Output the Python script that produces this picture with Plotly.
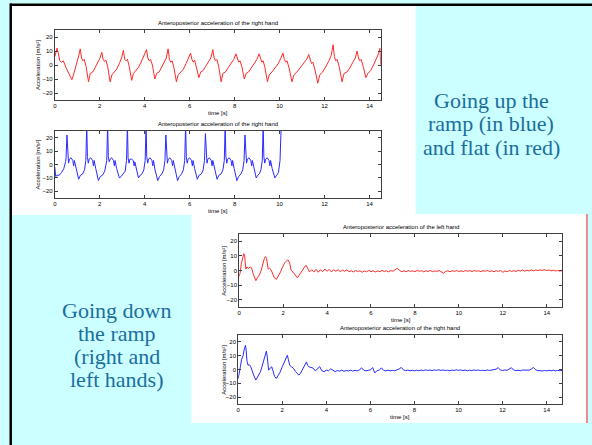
import plotly.graph_objects as go

W, H = 592, 445

# ---------------- data (time [s], acceleration [m/s^2]) ----------------
up_flat_red = [
    (0.0, 6), (0.05, 10), (0.1, 12), (0.15, 9), (0.22, 3), (0.3, 2), (0.38, 3), (0.5, -2), (0.6, -5),
    (0.76, -10.5), (0.83, -7), (0.9, -3), (1.0, 2), (1.07, 7),
    (1.13, 11.5), (1.19, 5), (1.25, 3), (1.31, 4), (1.39, -1), (1.50, -12), (1.58, -6), (1.69, -5), (1.79, -2), (1.91, 2), (2.01, 5),
    (2.09, 9), (2.15, 4), (2.21, 2.5), (2.27, 3.5), (2.35, -1), (2.46, -12), (2.54, -7), (2.65, -5), (2.75, -3), (2.87, 1), (2.97, 5),
    (3.05, 10.5), (3.11, 4), (3.17, 3), (3.23, 4), (3.31, -1), (3.42, -11), (3.50, -6), (3.61, -4), (3.71, -2), (3.84, 2), (3.96, 6),
    (4.08, 11), (4.14, 5), (4.20, 3), (4.26, 4), (4.34, 0), (4.45, -10), (4.53, -6), (4.64, -5), (4.74, -2), (4.86, 1), (4.96, 5),
    (5.04, 11.5), (5.10, 4), (5.16, 2), (5.22, 3), (5.30, -2), (5.41, -12), (5.49, -7), (5.60, -5), (5.72, -3), (5.84, 1), (5.95, 5),
    (6.04, 8.5), (6.10, 4), (6.16, 2), (6.22, 3.5), (6.30, -1), (6.41, -9), (6.49, -5), (6.60, -4), (6.71, -1), (6.83, 2), (6.94, 5),
    (7.03, 11), (7.09, 5), (7.15, 3), (7.21, 4), (7.29, -1), (7.40, -12), (7.48, -6), (7.59, -5), (7.71, -2), (7.84, 1), (7.96, 4),
    (8.06, 8), (8.12, 4), (8.18, 2), (8.24, 3), (8.32, -1), (8.43, -10), (8.51, -6), (8.62, -5), (8.74, -2), (8.87, 1), (8.99, 4),
    (9.09, 8), (9.15, 4), (9.21, 2), (9.27, 3), (9.35, -2), (9.46, -12), (9.54, -7), (9.66, -5), (9.80, -2), (9.94, 1), (10.06, 5),
    (10.15, 8.5), (10.21, 4), (10.27, 2), (10.33, 3), (10.42, -2), (10.55, -12), (10.64, -7), (10.77, -5), (10.92, -2), (11.06, 1), (11.2, 4),
    (11.30, 7.5), (11.36, 3), (11.42, 1), (11.48, 2), (11.57, -3), (11.70, -13), (11.79, -7), (11.92, -5), (12.06, -1), (12.2, 3), (12.3, 7),
    (12.38, 14.5), (12.44, 6), (12.50, 3), (12.56, 4), (12.65, -1), (12.78, -12), (12.87, -6), (13.0, -5), (13.13, -2), (13.26, 2), (13.37, 5),
    (13.45, 10), (13.51, 5), (13.57, 3), (13.63, 4), (13.72, -1), (13.84, -9), (13.93, -6), (14.05, -4), (14.18, 0), (14.3, 4), (14.4, 8),
    (14.47, 12), (14.5, 0),
]

up_ramp_blue = [
    (0.0, -2), (0.04, -9), (0.1, -8), (0.2, -8), (0.3, -6), (0.4, -3), (0.48, 2), (0.5, 5),
    (0.54, 22), (0.57, 6), (0.61, 1), (0.65, 4), (0.72, 5), (0.80, 3), (0.84, -1), (0.87, 3), (0.94, -3), (1.06, -11), (1.14, -8), (1.24, -7), (1.32, -4), (1.38, 3),
    (1.42, 30), (1.45, 6), (1.49, 1), (1.53, 4), (1.60, 5), (1.68, 3), (1.72, -1), (1.75, 3), (1.82, -3), (1.94, -12), (2.02, -9), (2.12, -8), (2.22, -5), (2.31, 3),
    (2.35, 30), (2.38, 6), (2.42, 2), (2.46, 4), (2.53, 5), (2.61, 3), (2.65, -1), (2.68, 3), (2.75, -3), (2.87, -10), (2.95, -9), (3.05, -7), (3.13, -5), (3.19, 3),
    (3.23, 30), (3.26, 5), (3.30, 1), (3.34, 4), (3.41, 4), (3.49, 3), (3.53, -1), (3.56, 2), (3.63, -3), (3.72, -10), (3.80, -8), (3.88, -7), (3.96, -4), (4.02, 3),
    (4.06, 30), (4.09, 6), (4.13, 1), (4.17, 4), (4.24, 5), (4.32, 3), (4.36, -1), (4.39, 3), (4.46, -4), (4.58, -12), (4.66, -9), (4.76, -7), (4.84, -4), (4.90, 3),
    (4.94, 22), (4.97, 6), (5.01, 1), (5.05, 4), (5.12, 5), (5.20, 3), (5.24, -1), (5.27, 3), (5.34, -3), (5.46, -12), (5.54, -9), (5.64, -7), (5.72, -4), (5.78, 3),
    (5.82, 30), (5.85, 6), (5.89, 1), (5.93, 4), (6.00, 5), (6.08, 3), (6.12, -1), (6.15, 3), (6.22, -3), (6.34, -11), (6.42, -8), (6.52, -7), (6.60, -4), (6.66, 3),
    (6.70, 23), (6.73, 6), (6.77, 1), (6.81, 4), (6.88, 5), (6.96, 3), (7.00, -1), (7.03, 3), (7.10, -3), (7.22, -11), (7.30, -8), (7.40, -7), (7.48, -4), (7.54, 3),
    (7.58, 30), (7.61, 6), (7.65, 1), (7.69, 4), (7.76, 5), (7.84, 3), (7.88, -1), (7.91, 3), (7.98, -3), (8.10, -12), (8.18, -9), (8.28, -7), (8.36, -4), (8.42, 3),
    (8.46, 22), (8.49, 6), (8.53, 1), (8.57, 4), (8.64, 5), (8.72, 3), (8.76, -1), (8.79, 3), (8.86, -3), (8.96, -10), (9.03, -8), (9.10, -7), (9.17, -4), (9.23, 3),
    (9.27, 30), (9.30, 6), (9.34, 1), (9.38, 4), (9.45, 5), (9.53, 3), (9.57, -1), (9.60, 3), (9.67, -3), (9.79, -10), (9.87, -8), (9.95, -6), (10.02, 3),
    (10.07, 28),
]

down_left_red = [
    (0.0, -4), (0.05, -1), (0.1, 5), (0.16, 10), (0.21, 11.5), (0.25, 10), (0.3, 1), (0.35, 2.5), (0.42, 1.5), (0.5, 2.5),
    (0.56, 2), (0.63, -2), (0.7, -5.5), (0.76, -7), (0.83, -5), (0.92, -3), (1.0, 0), (1.08, 5), (1.15, 8.5), (1.2, 9.5),
    (1.25, 8), (1.32, 1), (1.38, 1.5), (1.45, 0.5), (1.52, -2), (1.6, -5), (1.7, -6), (1.78, -4), (1.88, -1), (1.98, 2.5),
    (2.08, 5.5), (2.18, 7), (2.23, 7.2), (2.3, 5), (2.36, 0.5), (2.44, -1), (2.52, -2.5), (2.6, -4.5), (2.65, -5), (2.72, -3.5),
    (2.8, -1.5), (2.9, 1), (3.0, 3), (3.05, 3.5), (3.1, 2), (3.15, 0),
    (3.2, -1), (3.3, 0.5), (3.4, -1), (3.5, 0.8), (3.6, -1.2), (3.7, 0.5), (3.8, -0.8), (3.9, 1), (4.0, -0.5), (4.1, 0.8),
    (4.2, -1), (4.3, 0.5), (4.4, -0.5), (4.5, 0.6), (4.6, -0.8), (4.7, 0.2), (4.8, -0.5), (4.9, 0.4), (5.0, -0.8), (5.1, -0.2),
    (5.2, -1), (5.3, 0), (5.4, -0.6), (5.5, -0.2), (5.6, -1.2), (5.7, -0.3), (5.8, -0.8), (5.9, 0), (6.0, -0.7), (6.1, -0.2),
    (6.2, -1), (6.3, -0.3), (6.4, -0.8), (6.5, 0), (6.6, -0.6), (6.7, -0.2), (6.8, -0.9), (6.9, -0.1), (7.0, -0.5), (7.1, 0.5),
    (7.2, 1.6), (7.3, 0), (7.4, -0.8), (7.5, -0.2), (7.6, -0.9), (7.7, 0), (7.8, -0.6), (7.9, -0.2), (8.0, -0.8), (8.1, 0),
    (8.2, -0.5), (8.3, -0.1), (8.4, -0.9), (8.5, -0.2), (8.6, -0.6), (8.7, 0), (8.8, -0.8), (8.9, -0.3), (9.0, -0.6), (9.1, 0),
    (9.2, -0.8), (9.3, -1.8), (9.4, -0.6), (9.5, -0.2), (9.6, -0.9), (9.7, -0.1), (9.8, -0.6), (9.9, 0), (10.0, -0.7), (10.1, -0.2),
    (10.2, -0.8), (10.3, 0), (10.4, -0.5), (10.5, -0.1), (10.6, -0.7), (10.7, 0), (10.8, -0.5), (10.9, -0.2), (11.0, -0.8), (11.1, -0.1),
    (11.2, -0.5), (11.3, 0), (11.4, -0.7), (11.5, -0.2), (11.6, -0.9), (11.7, -0.1), (11.8, -0.6), (11.9, 0), (12.0, -1.2), (12.1, -0.3),
    (12.2, -0.8), (12.3, 0), (12.4, -0.6), (12.5, -0.1), (12.6, -0.7), (12.7, 0.2), (12.8, -0.4), (12.9, 0.3), (13.0, -0.5), (13.1, 0.2),
    (13.2, -0.3), (13.3, 0.4), (13.4, -0.2), (13.5, 0.3), (13.6, 0), (13.7, 0.4), (13.8, 0.1), (13.9, 0.5), (14.0, 0), (14.1, 0.3),
    (14.2, -0.2), (14.3, 0.2), (14.4, -0.3), (14.5, 0), (14.6, -0.4), (14.7, -0.1),
]

down_right_blue = [
    (0.0, -6.5), (0.05, -3), (0.1, 2), (0.15, 7), (0.22, 10), (0.28, 15), (0.33, 17.5), (0.36, 14), (0.4, 6), (0.45, 3),
    (0.5, 3.5), (0.56, 2.5), (0.62, -0.5), (0.7, -4), (0.8, -7.7), (0.86, -6), (0.92, -5), (1.0, -2), (1.08, 2), (1.16, 7),
    (1.24, 12), (1.28, 13.4), (1.32, 9), (1.38, -0.5), (1.45, 1), (1.52, 2), (1.58, -1), (1.65, -5), (1.73, -6.5), (1.8, -5),
    (1.9, -2), (2.0, 2), (2.1, 6), (2.18, 9.5), (2.23, 10.3), (2.28, 7), (2.34, 3), (2.42, 2), (2.5, 1), (2.6, -1.5),
    (2.68, -3), (2.75, -4), (2.82, -3), (2.9, -0.5), (3.0, 3), (3.06, 5), (3.1, 5.5), (3.15, 3), (3.2, 2), (3.3, 1.5),
    (3.4, 1), (3.5, -1), (3.6, 0.5), (3.7, 2), (3.8, -1), (3.9, -1.5), (4.0, -0.5), (4.1, -1), (4.2, 0.5), (4.3, -0.5),
    (4.4, -1.5), (4.5, -0.8), (4.6, -1.2), (4.7, -0.5), (4.8, -1.3), (4.9, -0.8), (5.0, -1), (5.1, -0.5), (5.2, -1.2), (5.3, -0.6),
    (5.4, -1), (5.5, -0.3), (5.6, 1.2), (5.7, -0.5), (5.8, -1), (5.9, -0.6), (6.0, -0.3), (6.1, 1.4), (6.2, -2.5), (6.3, -0.8),
    (6.4, -0.5), (6.5, 1.2), (6.6, -0.6), (6.7, -1), (6.8, -0.5), (6.9, -0.9), (7.0, -0.6), (7.1, -0.9), (7.2, -0.4), (7.3, 0.3),
    (7.4, 1.5), (7.5, -0.3), (7.6, -0.8), (7.7, -0.5), (7.8, -0.9), (7.9, -0.6), (8.0, -1), (8.1, -0.5), (8.2, -0.9), (8.3, -0.4),
    (8.4, -0.8), (8.5, -0.3), (8.6, -0.7), (8.7, -0.4), (8.8, -0.8), (8.9, -0.3), (9.0, -0.6), (9.1, -0.2), (9.2, -0.7), (9.3, -0.3),
    (9.4, -0.8), (9.5, -0.5), (9.6, -0.9), (9.7, -0.4), (9.8, -0.7), (9.9, -0.2), (10.0, -0.6), (10.1, -0.3), (10.2, -0.8), (10.3, -0.4),
    (10.4, -0.9), (10.5, -0.5), (10.6, -0.8), (10.7, -0.3), (10.8, -0.7), (10.9, -0.4), (11.0, -0.8), (11.1, -0.5), (11.2, -0.9), (11.3, -0.3),
    (11.4, -0.7), (11.5, -0.4), (11.6, -0.6), (11.7, 0.2), (11.8, 1.4), (11.9, -0.4), (12.0, -0.8), (12.1, -0.3), (12.2, -0.6), (12.3, 0.3),
    (12.4, 1.3), (12.5, -0.4), (12.6, -0.8), (12.7, -0.5), (12.8, -0.9), (12.9, -0.4), (13.0, -0.6), (13.1, -0.3), (13.2, -0.5), (13.3, 0.3),
    (13.4, 1.5), (13.5, -0.2), (13.6, -0.9), (13.7, -0.8), (13.8, -1.1), (13.9, -0.7), (14.0, -1), (14.1, -0.6), (14.2, -0.9), (14.3, -0.5),
    (14.4, -1), (14.5, -0.6), (14.6, -0.9), (14.7, -0.6),
]

x_ticks = [0, 2, 4, 6, 8, 10, 12, 14]
y_ticks = [-20, -10, 0, 10, 20]
titles = [
    "Anteroposterior acceleration of the right hand",
    "Anteroposterior acceleration of the right hand",
    "Anteroposterior acceleration of the left hand",
    "Anteroposterior acceleration of the right hand",
]
y_label = "Acceleration [m/s²]"
x_label = "time [s]"
text_up = ["Going up the", "ramp (in blue)", "and flat (in red)"]
text_down = ["Going down", "the ramp", "(right and", "left hands)"]

# ---------------- layout helpers ----------------
def px(x):
    return x / W

def py(y):
    return 1 - y / H

# plot boxes in pixels: (left, top, right, bottom, xmax)
boxes = [
    (53, 30, 380, 100, 14.5),
    (53, 131, 380, 198, 14.5),
    (238, 234, 562, 307, 14.7),
    (237, 335, 562, 404, 14.7),
]
series = [up_flat_red, up_ramp_blue, down_left_red, down_right_blue]
colors = ["#FF2A2A", "#2A2AFF", "#FF2A2A", "#2A2AFF"]
ylab_x = [36, 36, 222, 222]

fig = go.Figure()
layout = dict(
    width=W, height=H, margin=dict(l=0, r=0, t=0, b=0),
    paper_bgcolor="#CCFFFF", plot_bgcolor="white", showlegend=False,
    font=dict(family="Liberation Sans, Arial, sans-serif", size=6, color="black"),
)
annotations = []
axis_style = dict(showline=True, linecolor="#404040", linewidth=1, mirror="ticks",
                  ticks="inside", ticklen=3, tickcolor="#404040", tickwidth=1,
                  showgrid=False, zeroline=False, tickfont=dict(size=6, color="black"))

for i, (box, data, col) in enumerate(zip(boxes, series, colors)):
    l, t, r, b, xmax = box
    n = "" if i == 0 else str(i + 1)
    fig.add_trace(go.Scatter(
        x=[p[0] for p in data], y=[p[1] for p in data], mode="lines",
        line=dict(color=col, width=1), xaxis="x" + n, yaxis="y" + n,
    ))
    layout["xaxis" + n] = dict(domain=[px(l), px(r)], range=[0, xmax], tickvals=x_ticks,
                               anchor="y" + n, **axis_style)
    layout["yaxis" + n] = dict(domain=[py(b), py(t)], range=[-25, 25], tickvals=y_ticks,
                               anchor="x" + n, **axis_style)
    cx = (l + r) / 2
    annotations.append(dict(x=px(cx), y=py(t - 7), xref="paper", yref="paper", text=titles[i],
                            showarrow=False, font=dict(size=6), xanchor="center", yanchor="middle"))
    annotations.append(dict(x=px(cx), y=py(b + 13), xref="paper", yref="paper", text=x_label,
                            showarrow=False, font=dict(size=6), xanchor="center", yanchor="middle"))
    annotations.append(dict(x=px(ylab_x[i]), y=py((t + b) / 2), xref="paper", yref="paper", text=y_label,
                            showarrow=False, font=dict(size=6), textangle=-90, xanchor="center", yanchor="middle"))

serif = dict(family="'Liberation Serif', 'Times New Roman', 'DejaVu Serif', serif", size=22, color="#1A6E9E")
for k, line in enumerate(text_up):
    annotations.append(dict(x=px(491), y=py(101 + 23 * k), xref="paper", yref="paper", text=line,
                            showarrow=False, font=serif, xanchor="center", yanchor="middle"))
for k, line in enumerate(text_down):
    annotations.append(dict(x=px(115), y=py(310 + 23 * k), xref="paper", yref="paper", text=line,
                            showarrow=False, font=serif, xanchor="center", yanchor="middle"))

shapes = [
    dict(type="rect", xref="paper", yref="paper", x0=px(10), x1=px(415), y0=py(215), y1=py(6),
         fillcolor="white", line=dict(width=0), layer="below"),
    dict(type="rect", xref="paper", yref="paper", x0=px(190), x1=px(586), y0=py(423), y1=py(214),
         fillcolor="white", line=dict(width=0), layer="below"),
    dict(type="rect", xref="paper", yref="paper", x0=px(586), x1=px(588), y0=py(423), y1=py(214),
         fillcolor="#F08A8A", line=dict(width=0), layer="below"),
    dict(type="rect", xref="paper", yref="paper", x0=px(8), x1=px(592), y0=py(6), y1=py(3.5),
         fillcolor="black", line=dict(width=0), layer="below"),
    dict(type="rect", xref="paper", yref="paper", x0=px(7.5), x1=px(10), y0=py(445), y1=py(3.5),
         fillcolor="black", line=dict(width=0), layer="below"),
]
layout["annotations"] = annotations
layout["shapes"] = shapes
fig.update_layout(**layout)
fig.write_html("out.html")
